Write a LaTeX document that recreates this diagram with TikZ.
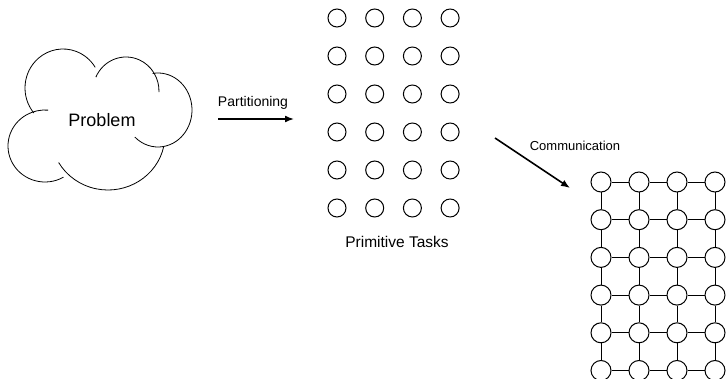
\documentclass[tikz,border=0pt]{standalone}
\usepackage{fontspec}
\setmainfont{Liberation Sans}
\usetikzlibrary{arrows.meta}
\tikzset{
  cloudline/.style={line width=0.8pt},
  task/.style={circle, draw, line width=1pt, minimum size=18pt, inner sep=0pt},
  proc/.style={circle, draw, line width=1pt, minimum size=20pt, inner sep=0pt, fill=white},
  link/.style={line width=0.9pt},
  flow/.style={line width=1.6pt, -{Latex[length=9pt,width=7pt]}},
  lbl/.style={inner sep=0pt, font=\fontsize{13}{15}\selectfont},
}
% one lobe of the cloud: centre x, centre y, x radius, y radius, start, end
% (angles measured clockwise on screen)
\newcommand\cloudlobe[6]{%
  \draw[cloudline] ([shift={(-#5:#3pt and #4pt)}]#1,#2)
    arc[start angle=-#5, end angle=-#6, x radius=#3pt, y radius=#4pt];}
\begin{document}
\begin{tikzpicture}[x=1pt,y=-1pt]
  \useasboundingbox (0,0) rectangle (726,379);
  \clip (0,0) rectangle (726,379);

  % problem cloud
  \cloudlobe{63}{88}{38}{39}{140}{328}
  \cloudlobe{126}{91}{33}{34}{204}{362}
  \cloudlobe{158}{110}{34}{37}{261}{493}
  \cloudlobe{108}{135}{57}{55}{12}{150}
  \cloudlobe{45}{146}{37}{36}{60}{275}
  \node[lbl, font=\fontsize{18}{20}\selectfont] (problem) at (102,120) {Problem};

  % partitioning step
  \coordinate (pa) at (218,119);
  \coordinate (pb) at (294,119);
  \draw[flow] (pa) -- (pb);
  \node[lbl, font=\fontsize{14}{16}\selectfont] (part) at (253,103) {Partitioning};

  % primitive tasks
  \foreach \i in {0,...,3}
    \foreach \j in {0,...,5}
      \node[task] (t-\i-\j) at ({337+37.7*\i},{18+38*\j}) {};
  \node[lbl, font=\fontsize{15.5}{17}\selectfont] (prim) at (397,242) {Primitive Tasks};

  % communication step
  \coordinate (ca) at (495,138);
  \coordinate (cb) at (570,188);
  \draw[flow] (ca) -- (cb);
  \node[lbl] (comm) at (575,146) {Communication};

  % task graph with channels
  \foreach \i in {0,...,3}
    \foreach \j in {0,...,5}
      \node[proc] (n-\i-\j) at ({601+38*\i},{182+37.7*\j}) {};
  \foreach \i [count=\k] in {0,...,2}
    \foreach \j in {0,...,5}
      \draw[link] (n-\i-\j) -- (n-\k-\j);
  \foreach \i in {0,...,3}
    \foreach \j [count=\k] in {0,...,4}
      \draw[link] (n-\i-\j) -- (n-\i-\k);
\end{tikzpicture}
\end{document}
